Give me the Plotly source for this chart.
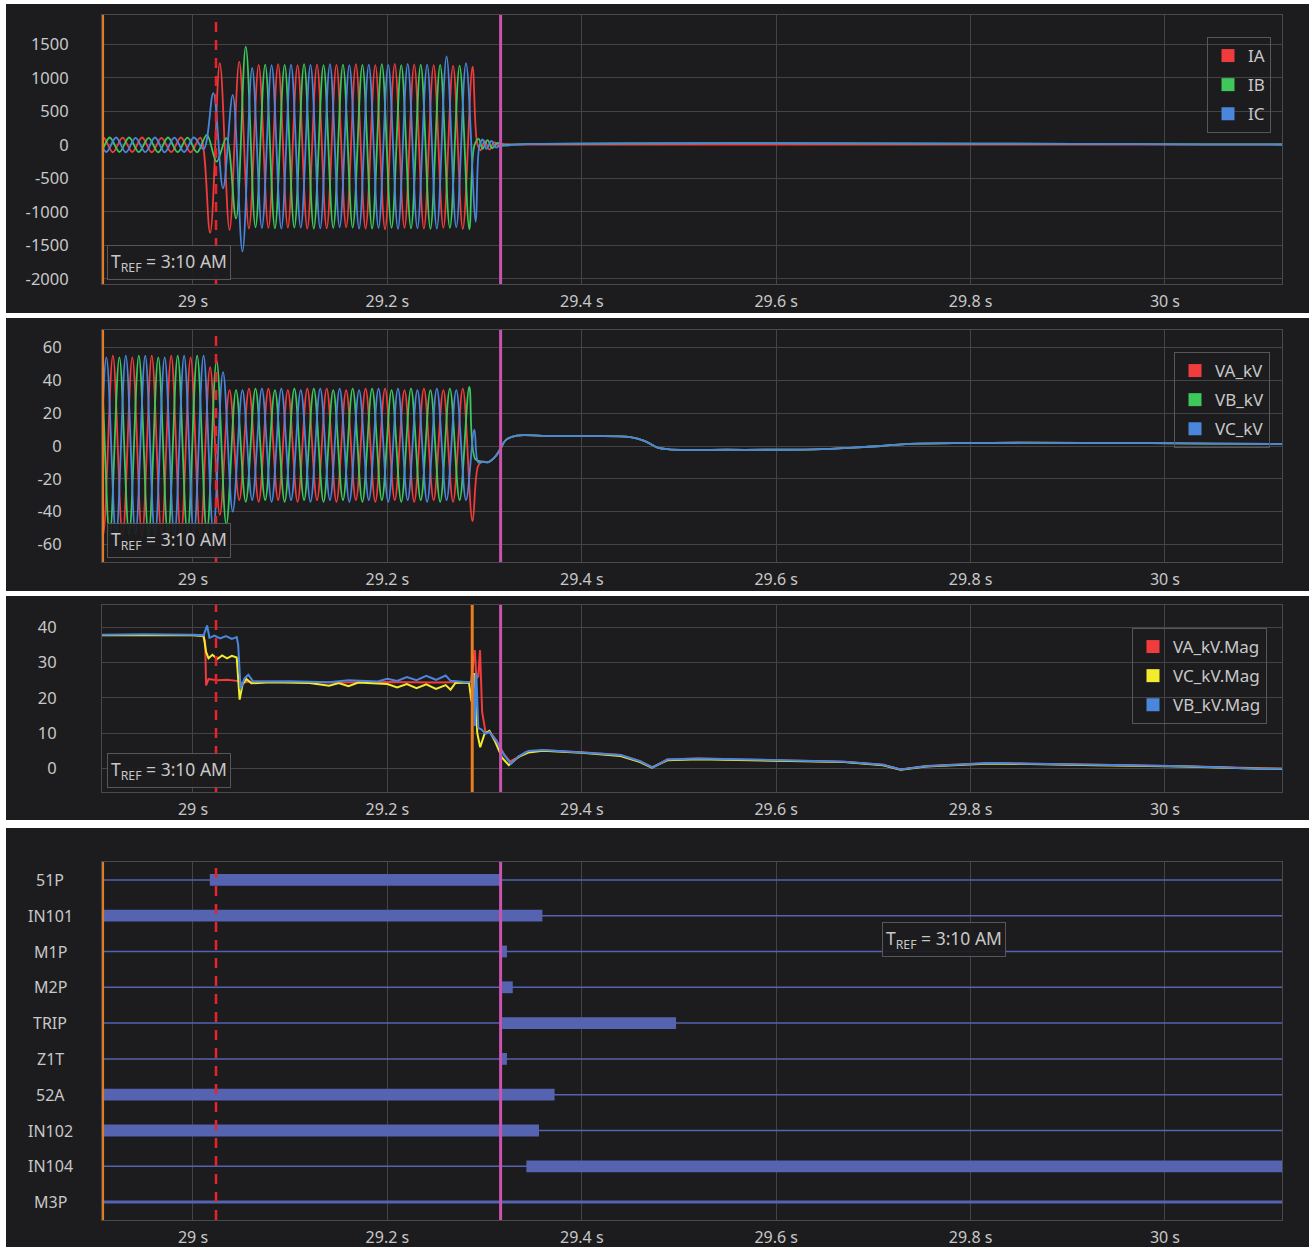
import plotly.graph_objects as go

W, H = 1309, 1247
BG = "#1c1c1e"
GRID = "#444446"
FRAME = "#4a4a4c"
TXT = "#c8c8c8"
FONT = "Noto Sans"

RED = "#f03c3c"
GREEN = "#3ec85c"
BLUE = "#4a86dc"
YELLOW = "#f2ec2c"
BAR = "#5563b0"
MAGENTA = "#c954ad"
ORANGE = "#e87d22"
DASHRED = "#e8232b"

# ---------------- axes / ticks ----------------
X_RANGE = [28.9064, 30.1204]
X_TICKS = [29.0, 29.2, 29.4, 29.6, 29.8, 30.0]
X_TICK_TEXT = ["29 s", "29.2 s", "29.4 s", "29.6 s", "29.8 s", "30 s"]
I_TICKS = [-2000, -1500, -1000, -500, 0, 500, 1000, 1500]
I_TICK_TEXT = ["-2000", "-1500", "-1000", "-500", "0", "500", "1000", "1500"]
V_TICKS = [-60, -40, -20, 0, 20, 40, 60]
V_TICK_TEXT = ["-60", "-40", "-20", "0", "20", "40", "60"]
M_TICKS = [0, 10, 20, 30, 40]
M_TICK_TEXT = ["0", "10", "20", "30", "40"]

# cursor times (s)
CURSOR_LEFT = 28.9075
CURSOR_RED = 29.0237
CURSOR_MAGENTA = 29.3165
CURSOR_ORANGE_MAG = 29.2873

TREF_TEXT = "T<sub>REF</sub> = 3:10 AM"

# ---------------- currents (A): successive half-cycle extrema, 50 Hz ----------------
HALF_CYCLE = 0.01
IA_START, IB_START, IC_START = 28.8976, 28.8943, 28.8909
IA_EXT = [-105, 110, -110, 108, -106, 110, -110, 106, -108, 110, -110, 108,
          -1313, 1219, -1270, 1243,
          -1250, 1195, -1240, 1205, -1235, 1190, -1250, 1200, -1245, 1195, -1230, 1205,
          -1250, 1190, -1260, 1210, -1240, 1200, -1250, 1190, -1240, 1185, -1255, 1170]
IB_EXT = [108, -110, 110, -106, 110, -108, 106, -110, 110, -108, 108, -110,
          150, -250, 100, -1100, 1467,
          -1230, 1200, -1245, 1195, -1235, 1205, -1250, 1190, -1240, 1200, -1235, 1195,
          -1250, 1205, -1240, 1190, -1245, 1200, -1255, 1195, -1240, 1185, -1260]
IC_EXT = [-110, 108, -106, 110, -110, 106, -108, 110, -110, 108, -106, 110,
          -60, 772, -650, 746, -1592, 1150,
          -1240, 1190, -1250, 1200, -1235, 1195, -1245, 1205, -1230, 1190, -1250, 1200,
          -1240, 1195, -1255, 1210, -1245, 1200, -1250, 1320, -1230, 1220, -1150]
IA_TAIL = [(29.2925, 20), (29.296, -80), (29.300, 60), (29.305, -70), (29.310, 40),
           (29.315, -30), (29.320, 10), (29.328, 5), (30.13, 5)]
IB_TAIL = [(29.2895, -10), (29.294, 90), (29.298, -60), (29.303, 70), (29.308, -50),
           (29.313, 30), (29.318, -10), (29.326, 5), (30.13, 5)]
IC_TAIL = [(29.2945, -30), (29.298, 80), (29.302, -60), (29.307, 60), (29.312, -40),
           (29.317, 20), (29.322, -10), (29.330, 5), (30.13, 5)]

# ---------------- voltages (kV): successive half-cycle extrema, 50 Hz ----------------
VA_START, VB_START, VC_START = 28.8976, 28.8943, 28.8909
VA_EXT = [55, -54, 55, -55, 54, -55, 55, -54, 55, -55, 54, -55,
          48, -42, 34,
          -33, 35, -34, 35, -33, 34, -34, 35, -33, 35, -34, 34, -33, 35, -34, 35,
          -33, 34, -34, 35, -33, 34, -34, 35, -46]
VB_EXT = [-54, 55, -55, 54, -54, 55, -55, 54, -55, 55, -54, 55, -53,
          52, -48, 34,
          -34, 35, -33, 34, -34, 35, -33, 35, -34, 34, -33, 35, -34, 35, -33, 34,
          -34, 35, -33, 34, -34, 35, -33, 36]
VC_EXT = [55, -55, 54, -55, 55, -54, 55, -55, 54, -55, 55, -54, 55,
          -52, 45, -40,
          34, -33, 35, -34, 35, -33, 34, -34, 35, -33, 35, -34, 34, -33, 35, -34,
          35, -33, 34, -34, 35, -33, 34, -33]
VA_TAIL = [(29.2935, -12)]
VB_TAIL = [(29.2905, -8)]
VC_TAIL = [(29.2895, 10), (29.2935, -10)]
V_TAIL = [(29.298, -9.6), (29.304, -9.8), (29.311, -6.5), (29.316, -2.0), (29.322, 3.7),
          (29.333, 6.3), (29.36, 6.2), (29.40, 6.0), (29.45, 5.4), (29.465, 3.0),
          (29.478, -1.0), (29.49, -2.0), (29.55, -2.3), (29.64, -2.0), (29.68, -1.0),
          (29.708, 0.0), (29.733, 1.2), (29.80, 1.8), (29.85, 2.0), (29.95, 1.8),
          (30.05, 1.5), (30.13, 1.3)]

# ---------------- magnitudes (kV) ----------------
VA_MAG = [(28.906, 37.8), (28.95, 37.9), (29.0, 37.8), (29.010, 37.6), (29.0125, 36.0),
          (29.0135, 23.5), (29.016, 25.3), (29.025, 25.0), (29.035, 25.1), (29.045, 24.8),
          (29.050, 24.2), (29.058, 24.6), (29.10, 24.5), (29.15, 24.3), (29.20, 24.5),
          (29.25, 24.3), (29.286, 24.5), (29.2885, 31.0), (29.290, 33.5), (29.2915, 25.5),
          (29.2935, 26.0), (29.2953, 33.5), (29.2975, 16.0), (29.301, 10.2), (29.305, 10.5),
          (29.312, 8.0), (29.320, 4.0), (29.326, 2.0), (29.334, 3.0), (29.342, 4.6),
          (29.36, 5.1), (29.40, 4.6), (29.44, 3.8), (29.46, 2.0), (29.473, 0.3),
          (29.488, 2.5), (29.52, 2.8), (29.56, 2.5), (29.67, 1.9), (29.71, 1.0),
          (29.728, -0.3), (29.754, 0.7), (29.82, 1.5), (29.93, 1.0), (30.02, 0.6),
          (30.10, 0.0), (30.13, -0.1)]
VC_MAG = [(28.906, 37.7), (28.95, 37.8), (29.0, 37.7), (29.011, 37.5), (29.0135, 33.0),
          (29.016, 31.2), (29.020, 32.2), (29.025, 31.0), (29.030, 32.0), (29.035, 31.2),
          (29.040, 31.9), (29.045, 31.4), (29.0465, 24.0), (29.048, 19.5), (29.051, 23.8),
          (29.055, 25.3), (29.060, 24.1), (29.08, 24.4), (29.12, 24.2), (29.14, 23.4),
          (29.15, 24.2), (29.16, 23.3), (29.17, 24.3), (29.20, 23.9), (29.21, 22.9),
          (29.22, 23.9), (29.23, 22.7), (29.24, 23.8), (29.25, 22.5), (29.26, 23.6),
          (29.265, 22.3), (29.27, 24.2), (29.284, 24.3), (29.2865, 19.0), (29.289, 27.0),
          (29.2925, 10.0), (29.2955, 6.0), (29.300, 9.8), (29.305, 10.6), (29.311, 7.5),
          (29.318, 3.0), (29.325, 0.9), (29.335, 3.3), (29.345, 4.5), (29.36, 5.0),
          (29.40, 4.4), (29.44, 3.5), (29.46, 1.8), (29.472, 0.2), (29.488, 2.3),
          (29.52, 2.6), (29.56, 2.4), (29.67, 1.8), (29.71, 0.9), (29.728, -0.4),
          (29.754, 0.5), (29.82, 1.4), (29.93, 0.9), (30.02, 0.5), (30.10, -0.1),
          (30.13, -0.2)]
VB_MAG = [(28.906, 37.9), (28.95, 38.0), (29.0, 37.9), (29.011, 37.7), (29.0145, 40.5),
          (29.017, 37.0), (29.022, 37.6), (29.028, 36.8), (29.034, 37.5), (29.040, 36.7),
          (29.045, 37.2), (29.0465, 35.0), (29.049, 22.5), (29.053, 25.5), (29.057, 26.5),
          (29.062, 24.6), (29.10, 24.7), (29.14, 24.4), (29.16, 25.0), (29.19, 24.6),
          (29.20, 25.4), (29.21, 24.8), (29.22, 25.9), (29.23, 25.0), (29.24, 26.2),
          (29.25, 25.1), (29.26, 26.3), (29.265, 24.8), (29.28, 24.5), (29.286, 24.5),
          (29.2885, 26.5), (29.290, 12.0), (29.2915, 27.0), (29.2935, 11.5), (29.297, 11.0),
          (29.301, 9.8), (29.305, 10.3), (29.312, 7.8), (29.320, 3.8), (29.327, 1.3),
          (29.335, 3.4), (29.345, 4.9), (29.36, 5.2), (29.40, 4.6), (29.44, 3.8),
          (29.46, 2.0), (29.473, 0.2), (29.488, 2.5), (29.52, 2.8), (29.56, 2.6),
          (29.67, 1.9), (29.71, 1.0), (29.728, -0.3), (29.754, 0.6), (29.82, 1.5),
          (29.93, 1.0), (30.02, 0.6), (30.10, -0.1), (30.13, -0.1)]

# ---------------- digital signals ----------------
SIGNALS = ["51P", "IN101", "M1P", "M2P", "TRIP", "Z1T", "52A", "IN102", "IN104", "M3P"]
ON_START = [29.0173, 28.9064, 29.318, 29.318, 29.318, 29.318, 28.9064, 28.9064, 29.343, None]
ON_END = [29.316, 29.3595, 29.323, 29.329, 29.497, 29.323, 29.372, 29.356, 30.1204, None]

# ---------------- build ----------------
fig = go.Figure()


def add_wave(color, start, ext, tail, xa, ya):
    xs = [start + k * HALF_CYCLE for k in range(len(ext))] + [p[0] for p in tail]
    ys = list(ext) + [p[1] for p in tail]
    fig.add_trace(go.Scatter(x=xs, y=ys, mode="lines",
                             line=dict(color=color, width=1.8, shape="spline"),
                             xaxis=xa, yaxis=ya, showlegend=False, hoverinfo="skip"))


def add_series(color, pairs, xa, ya):
    fig.add_trace(go.Scatter(x=[p[0] for p in pairs], y=[p[1] for p in pairs], mode="lines",
                             line=dict(color=color, width=2),
                             xaxis=xa, yaxis=ya, showlegend=False, hoverinfo="skip"))


def add_key(name, color, xa, ya, legend):
    fig.add_trace(go.Scatter(x=[None], y=[None], mode="markers",
                             marker=dict(symbol="square", size=13, color=color),
                             name=name, xaxis=xa, yaxis=ya, legend=legend,
                             legendgroup=legend + name, showlegend=True))


add_wave(RED, IA_START, IA_EXT, IA_TAIL, "x", "y")
add_wave(GREEN, IB_START, IB_EXT, IB_TAIL, "x", "y")
add_wave(BLUE, IC_START, IC_EXT, IC_TAIL, "x", "y")
add_key("IA", RED, "x", "y", "legend")
add_key("IB", GREEN, "x", "y", "legend")
add_key("IC", BLUE, "x", "y", "legend")

add_wave(RED, VA_START, VA_EXT, VA_TAIL + V_TAIL, "x2", "y2")
add_wave(GREEN, VB_START, VB_EXT, VB_TAIL + V_TAIL, "x2", "y2")
add_wave(BLUE, VC_START, VC_EXT, VC_TAIL + V_TAIL, "x2", "y2")
add_key("VA_kV", RED, "x2", "y2", "legend2")
add_key("VB_kV", GREEN, "x2", "y2", "legend2")
add_key("VC_kV", BLUE, "x2", "y2", "legend2")

add_series(RED, VA_MAG, "x3", "y3")
add_series(YELLOW, VC_MAG, "x3", "y3")
add_series(BLUE, VB_MAG, "x3", "y3")
add_key("VA_kV.Mag", RED, "x3", "y3", "legend3")
add_key("VC_kV.Mag", YELLOW, "x3", "y3", "legend3")
add_key("VB_kV.Mag", BLUE, "x3", "y3", "legend3")

# digital baselines
for s in SIGNALS:
    fig.add_trace(go.Scatter(x=X_RANGE, y=[s, s], mode="lines",
                             line=dict(color=BAR, width=3 if s == "M3P" else 1.5),
                             xaxis="x4", yaxis="y4", showlegend=False, hoverinfo="skip"))
act = [(s, a, b) for s, a, b in zip(SIGNALS, ON_START, ON_END) if a is not None]
fig.add_trace(go.Bar(y=[a[0] for a in act], x=[a[2] - a[1] for a in act], base=[a[1] for a in act],
                     orientation="h", width=0.33, marker=dict(color=BAR, line=dict(width=0)),
                     xaxis="x4", yaxis="y4", showlegend=False, hoverinfo="skip"))

# ---------------- layout ----------------
PANELS = [(4, 313), (318, 591), (596, 820), (828, 1247)]
PLOTS = [(15, 284), (330, 562), (605, 792), (862, 1220)]
XDOM = [102 / W, 1282 / W]


def ydom(top, bottom):
    return [1 - bottom / H, 1 - top / H]


common = dict(showgrid=True, gridcolor=GRID, gridwidth=1, zeroline=False, showline=True,
              linecolor=FRAME, linewidth=1, mirror=True, ticks="", automargin=False)

layout = dict(width=W, height=H, margin=dict(l=0, r=0, t=0, b=0, autoexpand=False),
              paper_bgcolor="white", plot_bgcolor=BG, barmode="overlay",
              font=dict(family=FONT, color=TXT), hovermode=False, showlegend=True)

for i in range(4):
    sfx = "" if i == 0 else str(i + 1)
    layout["xaxis" + sfx] = dict(common, domain=XDOM, range=X_RANGE, anchor="y" + sfx,
                                 tickmode="array", tickvals=X_TICKS, ticktext=X_TICK_TEXT,
                                 tickfont=dict(family=FONT, size=16, color=TXT),
                                 ticklabelstandoff=3)

yfont = dict(family=FONT, size=16.5, color=TXT)
layout["yaxis"] = dict(common, domain=ydom(*PLOTS[0]), range=[-2078, 1940], tickmode="array",
                       tickvals=I_TICKS, ticktext=I_TICK_TEXT, anchor="x", ticklabelstandoff=29,
                       tickfont=yfont)
layout["yaxis2"] = dict(common, domain=ydom(*PLOTS[1]), range=[-70.7, 70.7], tickmode="array",
                        tickvals=V_TICKS, ticktext=V_TICK_TEXT, anchor="x2", ticklabelstandoff=36,
                        tickfont=yfont)
layout["yaxis3"] = dict(common, domain=ydom(*PLOTS[2]), range=[-6.7, 46.3], tickmode="array",
                        tickvals=M_TICKS, ticktext=M_TICK_TEXT, anchor="x3", ticklabelstandoff=41,
                        tickfont=yfont)
layout["yaxis4"] = dict(domain=ydom(*PLOTS[3]), type="category", categoryorder="array",
                        categoryarray=SIGNALS, range=[9.5, -0.5], showgrid=False,
                        showticklabels=False, zeroline=False, showline=True, linecolor=FRAME,
                        mirror=True, anchor="x4", automargin=False)

legend_common = dict(bgcolor="rgba(0,0,0,0)", bordercolor="#57575a", borderwidth=1,
                     font=dict(family=FONT, size=17, color=TXT), xanchor="left", yanchor="top",
                     tracegroupgap=4, itemclick=False, itemdoubleclick=False)
layout["legend"] = dict(legend_common, x=1207 / W, y=1 - 37 / H)
layout["legend2"] = dict(legend_common, x=1174 / W, y=1 - 352 / H)
layout["legend3"] = dict(legend_common, x=1132 / W, y=1 - 628 / H)

shapes = []
for top, bottom in PANELS:
    shapes.append(dict(type="rect", xref="paper", yref="paper", x0=6 / W, x1=1,
                       y0=1 - bottom / H, y1=1 - top / H, fillcolor=BG, line=dict(width=0),
                       layer="below"))


def vline(t, xa, ya, color, width, dash="solid"):
    shapes.append(dict(type="line", xref=xa, yref=ya + " domain", x0=t, x1=t, y0=0, y1=1,
                       line=dict(color=color, width=width, dash=dash), layer="above"))


for xa, ya in [("x", "y"), ("x2", "y2"), ("x4", "y4")]:
    vline(CURSOR_LEFT, xa, ya, ORANGE, 2)
vline(CURSOR_ORANGE_MAG, "x3", "y3", ORANGE, 3)
for xa, ya in [("x", "y"), ("x2", "y2"), ("x3", "y3"), ("x4", "y4")]:
    vline(CURSOR_RED, xa, ya, DASHRED, 2.5, "10px,8px")
    vline(CURSOR_MAGENTA, xa, ya, MAGENTA, 3)
layout["shapes"] = shapes

annots = []
tref_style = dict(showarrow=False, xref="paper", yref="paper", xanchor="left", yanchor="bottom",
                  font=dict(family=FONT, size=17.5, color=TXT), bordercolor="#57575a",
                  borderwidth=1, borderpad=3, bgcolor="rgba(28,28,30,0.92)")
for left, bottom in [(107, 280), (107, 558), (107, 788), (882, 957)]:
    annots.append(dict(tref_style, text=TREF_TEXT, x=left / W, y=1 - bottom / H))
for s in SIGNALS:
    annots.append(dict(showarrow=False, xref="paper", yref="y4", x=50 / W, y=s,
                       xanchor="center", yanchor="middle", text=s,
                       font=dict(family=FONT, size=16, color=TXT)))
layout["annotations"] = annots

fig.update_layout(**layout)
fig.write_html("out.html", config={"displayModeBar": False},
               post_script="document.body.style.margin='0px';")
